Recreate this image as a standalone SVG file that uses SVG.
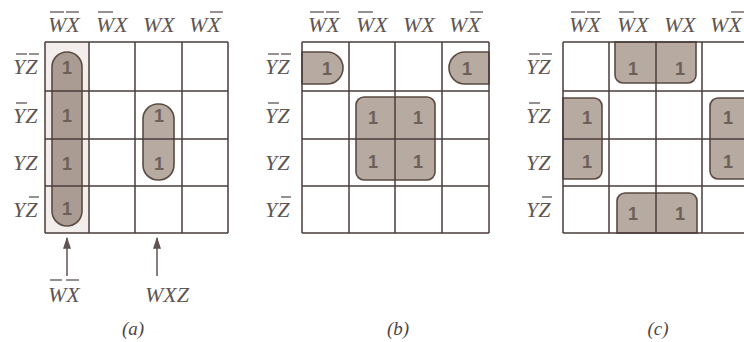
<svg xmlns="http://www.w3.org/2000/svg" width="744" height="342" viewBox="0 0 744 342">
  <style>
    .lbl { font-family: "Liberation Serif", "Times New Roman", serif; font-style: italic; font-size: 22px; fill: #5e5551; }
    .cap { font-family: "Liberation Serif", "Times New Roman", serif; font-style: italic; font-size: 19px; fill: #4e4542; text-anchor: middle; }
    .bar { stroke: #5e5551; stroke-width: 1.3; }
    .grid { stroke: #4b3d3d; stroke-width: 1.5; fill: none; }
    .loop { fill: #b6aaa1; stroke: #5b4b42; stroke-width: 1.6; }
    .loop.dark { fill: #aa9c92; }
    .one { font-family: "Liberation Sans", Arial, sans-serif; font-size: 18px; font-weight: bold; fill: #6e6058; text-anchor: middle; }
    .arrow { stroke: #5f5550; stroke-width: 1.5; }
  </style>
  <defs>
    <marker id="head" viewBox="0 0 10 10" refX="9" refY="5" markerWidth="12" markerHeight="8" markerUnits="userSpaceOnUse" orient="auto" preserveAspectRatio="none">
      <path d="M0,0 L10,5 L0,10 Z" fill="#5f5550"/>
    </marker>
    <!-- column headings, reused by each map -->
    <g id="heads">
      <text class="lbl" x="-18" y="-12">WX</text>
      <line class="bar" x1="-16" y1="-32" x2="-2" y2="-32"/>
      <line class="bar" x1="0" y1="-32" x2="13" y2="-32"/>
      <text class="lbl" x="30" y="-12">WX</text>
      <line class="bar" x1="32" y1="-32" x2="47" y2="-32"/>
      <text class="lbl" x="77" y="-12">WX</text>
      <text class="lbl" x="123" y="-12">WX</text>
      <line class="bar" x1="144" y1="-32" x2="157" y2="-32"/>
    </g>
  </defs>

  <rect width="744" height="342" fill="#ffffff"/>

  <!-- Map (a) -->
  <g id="map-a">
    <rect x="45" y="42" width="44" height="191" fill="#f3eeeb"/>
    <g id="a-loop-wx">
      <rect class="loop dark" x="52" y="52" width="30" height="174" rx="15"/>
    </g>
    <g id="a-loop-wxz">
      <rect class="loop" x="143" y="104" width="31" height="76" rx="15"/>
    </g>
    <path class="grid" d="M45,42 H228 M45,91 H228 M45,139 H228 M45,186 H228 M45,233 H228 M45,42 V233 M89,42 V233 M135,42 V233 M182,42 V233 M228,42 V233"/>
    <use href="#heads" x="66" y="44"/>
    <g id="a-rows">
      <text class="lbl" x="13" y="74">YZ</text>
      <line class="bar" x1="16" y1="54" x2="27" y2="54"/>
      <line class="bar" x1="29" y1="54" x2="39" y2="54"/>
      <text class="lbl" x="13" y="123">YZ</text>
      <line class="bar" x1="16" y1="103" x2="27" y2="103"/>
      <text class="lbl" x="13" y="170">YZ</text>
      <text class="lbl" x="13" y="217">YZ</text>
      <line class="bar" x1="29" y1="197" x2="39" y2="197"/>
    </g>
    <g id="a-ones">
      <text class="one" x="67" y="74">1</text>
      <text class="one" x="67" y="122">1</text>
      <text class="one" x="67" y="170">1</text>
      <text class="one" x="67" y="215">1</text>
      <text class="one" x="159" y="122">1</text>
      <text class="one" x="159" y="170">1</text>
    </g>
    <g id="a-term-wx">
      <text class="lbl" x="48" y="302">WX</text>
      <line class="bar" x1="50" y1="280" x2="62" y2="280"/>
      <line class="bar" x1="66" y1="280" x2="79" y2="280"/>
    </g>
    <g id="a-term-wxz">
      <text class="lbl" x="145" y="302">WXZ</text>
    </g>
    <text class="cap" x="133" y="335">(a)</text>
  </g>

  <!-- Map (b) -->
  <g id="map-b">
    <g id="b-loop-left">
      <path class="loop" d="M302,52 H327 A16,16 0 0 1 343,68 A16,16 0 0 1 327,84 H302 Z"/>
    </g>
    <g id="b-loop-right">
      <path class="loop" d="M489,52 H465 A16,16 0 0 0 449,68 A16,16 0 0 0 465,84 H489 Z"/>
    </g>
    <g id="b-loop-quad">
      <rect class="loop" x="356" y="97" width="79" height="83" rx="8"/>
    </g>
    <path class="grid" d="M302,42 H489 M302,91 H489 M302,139 H489 M302,186 H489 M302,233 H489 M302,42 V233 M349,42 V233 M395,42 V233 M442,42 V233 M489,42 V233"/>
    <use href="#heads" x="326" y="44"/>
    <g id="b-rows">
      <text class="lbl" x="265" y="74">YZ</text>
      <line class="bar" x1="268" y1="54" x2="279" y2="54"/>
      <line class="bar" x1="281" y1="54" x2="291" y2="54"/>
      <text class="lbl" x="265" y="123">YZ</text>
      <line class="bar" x1="268" y1="103" x2="279" y2="103"/>
      <text class="lbl" x="265" y="170">YZ</text>
      <text class="lbl" x="265" y="217">YZ</text>
      <line class="bar" x1="281" y1="197" x2="291" y2="197"/>
    </g>
    <g id="b-ones">
      <text class="one" x="327" y="75">1</text>
      <text class="one" x="467" y="75">1</text>
      <text class="one" x="373" y="124">1</text>
      <text class="one" x="418" y="124">1</text>
      <text class="one" x="373" y="168">1</text>
      <text class="one" x="418" y="168">1</text>
    </g>
    <text class="cap" x="398" y="335">(b)</text>
  </g>

  <!-- Map (c) -->
  <g id="map-c">
    <g id="c-loop-top">
      <path class="loop" d="M615,42 H696 V75 A8,8 0 0 1 688,83 H623 A8,8 0 0 1 615,75 Z"/>
    </g>
    <g id="c-loop-left">
      <path class="loop" d="M563,98 H594 A8,8 0 0 1 602,106 V171 A8,8 0 0 1 594,179 H563 Z"/>
    </g>
    <g id="c-loop-right">
      <path class="loop" d="M748,98 H718 A8,8 0 0 0 710,106 V171 A8,8 0 0 0 718,179 H748 Z"/>
    </g>
    <g id="c-loop-bottom">
      <path class="loop" d="M617,233 V201 A8,8 0 0 1 625,193 H689 A8,8 0 0 1 697,201 V233 Z"/>
    </g>
    <path class="grid" d="M563,42 H748 M563,91 H748 M563,139 H748 M563,186 H748 M563,233 H748 M563,42 V233 M609,42 V233 M656,42 V233 M702,42 V233"/>
    <use href="#heads" x="587" y="44"/>
    <g id="c-rows">
      <text class="lbl" x="526" y="74">YZ</text>
      <line class="bar" x1="529" y1="54" x2="540" y2="54"/>
      <line class="bar" x1="542" y1="54" x2="552" y2="54"/>
      <text class="lbl" x="526" y="123">YZ</text>
      <line class="bar" x1="529" y1="103" x2="540" y2="103"/>
      <text class="lbl" x="526" y="170">YZ</text>
      <text class="lbl" x="526" y="217">YZ</text>
      <line class="bar" x1="542" y1="197" x2="552" y2="197"/>
    </g>
    <g id="c-ones">
      <text class="one" x="633" y="75">1</text>
      <text class="one" x="680" y="75">1</text>
      <text class="one" x="587" y="124">1</text>
      <text class="one" x="587" y="168">1</text>
      <text class="one" x="728" y="124">1</text>
      <text class="one" x="728" y="168">1</text>
      <text class="one" x="633" y="220">1</text>
      <text class="one" x="680" y="220">1</text>
    </g>
    <text class="cap" x="658" y="335">(c)</text>
  </g>

  <!-- Pointers from the terms up to their loops -->
  <g id="connectors">
    <line class="arrow" x1="67" y1="276" x2="67" y2="238" marker-end="url(#head)"/>
    <line class="arrow" x1="157" y1="276" x2="157" y2="238" marker-end="url(#head)"/>
  </g>
</svg>
